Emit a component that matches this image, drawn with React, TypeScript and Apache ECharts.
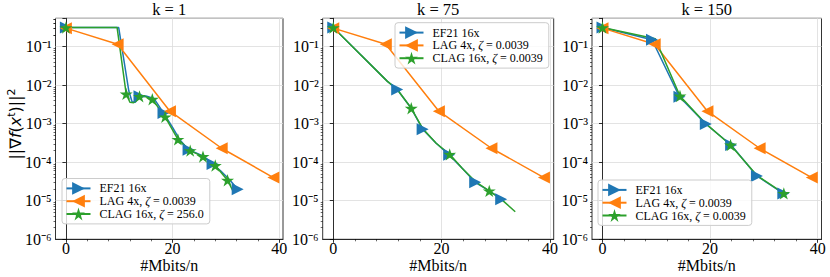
import React, { useEffect, useRef } from 'react';
import * as echarts from 'echarts';

// ---------- texts ----------
const panelTitles = ['k = 1', 'k = 75', 'k = 150'];
const xAxisName = '#Mbits/n';
const xTickValues = [0, 20, 40];
const ef21Name = 'EF21 16x';
const lagName = 'LAG 4x, ζ = 0.0039';
const clag256Name = 'CLAG 16x, ζ = 256.0';
const clag0039Name = 'CLAG 16x, ζ = 0.0039';

// ---------- data: k = 1 ----------
const ef21K1X = [0, 9.9, 11.8, 12.4, 13.0, 13.8, 15.0, 16.5, 18.3, 20.0, 21.3, 23.0, 25.9, 27.5, 29.0, 30.7, 32.2];
const ef21K1Y = [0.31, 0.31, 0.007, 0.0037, 0.0036, 0.0051, 0.0052, 0.0045, 0.0019, 0.0008, 3.9e-4, 2.1e-4, 1.4e-4, 9.0e-5, 6.0e-5, 3.5e-5, 2.0e-5];
const ef21K1Marks = [0, 5, 8, 11, 13, 16];
const clagK1X = [0, 9.6, 11.3, 12.0, 12.7, 13.8, 15.0, 16.2, 18.6, 21.0, 23.3, 25.7, 28.0, 30.3, 31.4];
const clagK1Y = [0.31, 0.31, 0.0059, 0.0036, 0.0035, 0.0051, 0.005, 0.0043, 0.0015, 3.9e-4, 2.0e-4, 1.4e-4, 8.2e-5, 3.4e-5, 1.7e-5];
const clagK1Marks = [0, 2, 5, 7, 8, 9, 10, 11, 12, 13];

// ---------- data: LAG (same in all panels) ----------
const lagX = [0, 9.7, 19.5, 29.2, 38.9];
const lagY = [0.3, 0.115, 0.0021, 2.3e-4, 4.0e-5];
const lagMarks = [0, 1, 2, 3, 4];

// ---------- data: k = 75 ----------
const ef21K75X = [0, 10.0, 11.8, 14.4, 16.5, 19.0, 21.4, 23.8, 26.2, 28.8, 31.0];
const ef21K75Y = [0.31, 0.0125, 0.0077, 0.0025, 7.2e-4, 3.1e-4, 1.55e-4, 7.0e-5, 3.0e-5, 1.8e-5, 1.1e-5];
const ef21K75Marks = [0, 2, 4, 6, 8, 10];
const clagK75X = [0, 10.0, 11.8, 14.4, 16.5, 19.0, 21.5, 23.8, 26.3, 28.8, 31.0, 33.6];
const clagK75Y = [0.31, 0.0125, 0.0078, 0.0025, 7.5e-4, 3.1e-4, 1.6e-4, 7.0e-5, 3.1e-5, 1.8e-5, 1.1e-5, 5.2e-6];
const clagK75Marks = [0, 3, 6, 9];

// ---------- data: k = 150 ----------
const ef21K150X = [0, 9.2, 14.3, 19.2, 23.9, 28.7, 33.6];
const ef21K150Y = [0.31, 0.15, 0.005, 9.8e-4, 2.8e-4, 4.4e-5, 1.55e-5];
const ef21K150Marks = [0, 1, 2, 3, 4, 5, 6];
const clagK150X = [0, 9.8, 14.4, 19.2, 23.8, 28.7, 33.7];
const clagK150Y = [0.31, 0.16, 0.0052, 1.0e-3, 2.8e-4, 4.5e-5, 1.55e-5];
const clagK150Marks = [0, 2, 4, 6];

// ---------- layout / style ----------
const GRID_TOP = 18.3;
const GRID_HEIGHT = 221;
const gridLefts = [55.5, 322.7, 592];
const gridWidths = [227.5, 231, 229.5];
const legendPos = [
  { left: 62, top: 178.5 },
  { left: 395, top: 22.7 },
  { left: 598, top: 180 },
];
const X_MIN = -1.95;
const X_MAX = 40.7;
const Y_MIN = 1e-6;
const Y_MAX = 0.54;

const SERIF = 'Liberation Serif';
const SANS = 'DejaVu Sans';
const BLUE = '#1f77b4';
const ORANGE = '#ff7f0e';
const GREEN = '#2ca02c';
const triRight = 'path://M0,0L10,5L0,10Z';
const triLeft = 'path://M10,0L0,5L10,10Z';
const star =
  'path://M10,0L12.23,6.93L19.51,6.91L13.61,11.17L15.88,18.09L10,13.8L4.12,18.09L6.39,11.17L0.49,6.91L7.77,6.93Z';
const SUP_DIGITS = '⁰¹²³⁴⁵⁶⁷⁸⁹';

function buildData(xs: number[], ys: number[], marks: number[]) {
  return xs.map((x, i) =>
    marks.indexOf(i) >= 0 ? { value: [x, ys[i]] } : { value: [x, ys[i]], symbol: 'none' }
  );
}

const yMinorTicks: number[] = [];
for (let e = -6; e <= -1; e++) {
  for (let m = 2; m <= 9; m++) yMinorTicks.push(m * Math.pow(10, e));
}
yMinorTicks.push(0.2, 0.3, 0.4, 0.5);

const panels = [
  { title: panelTitles[0], ef21: [ef21K1X, ef21K1Y, ef21K1Marks], clag: [clagK1X, clagK1Y, clagK1Marks], clagName: clag256Name },
  { title: panelTitles[1], ef21: [ef21K75X, ef21K75Y, ef21K75Marks], clag: [clagK75X, clagK75Y, clagK75Marks], clagName: clag0039Name },
  { title: panelTitles[2], ef21: [ef21K150X, ef21K150Y, ef21K150Marks], clag: [clagK150X, clagK150Y, clagK150Marks], clagName: clag0039Name },
];

function yLabel(v: number) {
  const l = Math.log10(v);
  const e = Math.round(l);
  if (Math.abs(l - e) > 1e-6) return '';
  const digits = String(Math.abs(e))
    .split('')
    .map((d) => SUP_DIGITS[Number(d)])
    .join('');
  return '10' + (e < 0 ? '⁻' : '') + digits;
}

const TXT = { fontFamily: SERIF, fontWeight: 'normal', fontStyle: 'normal', color: '#000' };

export default function App() {
  const ref = useRef<HTMLDivElement>(null);
  useEffect(() => {
    if (!ref.current) return;
    const chart = echarts.init(ref.current, undefined, { renderer: 'svg' });
    const tickLine = { color: '#000', width: 0.8 };
    const option: any = {
      animation: false,
      backgroundColor: '#fff',
      textStyle: { ...TXT, fontSize: 16 },
      title: panels.map((p, i) => ({
        text: p.title,
        left: gridLefts[i] + gridWidths[i] / 2,
        top: 1,
        textAlign: 'center',
        padding: 0,
        textStyle: { ...TXT, fontSize: 16.5 },
      })),
      grid: panels.map((p, i) => ({
        left: gridLefts[i],
        top: GRID_TOP,
        width: gridWidths[i],
        height: GRID_HEIGHT,
        show: true,
        borderColor: '#000',
        borderWidth: 0.8,
        backgroundColor: 'transparent',
        containLabel: false,
        outerBoundsMode: 'none',
      })),
      legend: panels.map((p, i) => ({
        data: [ef21Name, lagName, p.clagName],
        orient: 'vertical',
        align: 'left',
        left: legendPos[i].left,
        top: legendPos[i].top,
        itemWidth: 24,
        itemHeight: 16,
        itemGap: 0,
        padding: [3.5, 6, 3.5, 3.5],
        backgroundColor: 'rgba(255,255,255,0.8)',
        borderColor: '#cccccc',
        borderWidth: 1,
        borderRadius: 3,
        selectedMode: false,
        formatter: (name: string) => '{t|' + name.replace('ζ', '}{z|ζ}{t|') + '}',
        textStyle: {
          ...TXT,
          fontSize: 12,
          padding: [0, 0, 0, 4],
          rich: {
            t: { ...TXT, fontSize: 12 },
            z: { ...TXT, fontSize: 12, fontStyle: 'italic' },
          },
        },
      })),
      xAxis: panels.map((p, i) => ({
        type: 'value',
        gridIndex: i,
        min: X_MIN,
        max: X_MAX,
        splitNumber: 2,
        name: xAxisName,
        nameLocation: 'middle',
        nameGap: 18,
        nameMoveOverlap: false,
        nameTextStyle: { ...TXT, fontSize: 16 },
        axisLine: { show: true, onZero: false, lineStyle: tickLine },
        axisTick: { show: true, length: 3.5, lineStyle: tickLine, customValues: xTickValues },
        minorTick: { show: true, splitNumber: 5, length: 2, lineStyle: { color: '#000', width: 0.6 } },
        axisLabel: { ...TXT, customValues: xTickValues, fontSize: 16, margin: 1 },
        splitLine: { show: true, lineStyle: { color: '#dcdcdc', width: 0.8 } },
        minorSplitLine: { show: false },
      })),
      yAxis: [
        ...panels.map((p, i) => ({
          type: 'log',
          logBase: 10,
          gridIndex: i,
          min: Y_MIN,
          max: Y_MAX,
          position: 'left',
          axisLine: { show: true, lineStyle: tickLine },
          axisTick: { show: true, length: 3.5, lineStyle: tickLine },
          axisLabel: { ...TXT, formatter: yLabel, margin: 4, fontSize: 16 },
          splitLine: { show: true, lineStyle: { color: '#dcdcdc', width: 0.8 } },
        })),
        ...panels.map((p, i) => ({
          type: 'log',
          logBase: 10,
          gridIndex: i,
          min: Y_MIN,
          max: Y_MAX,
          position: 'left',
          axisLine: { show: false },
          axisLabel: { show: false },
          splitLine: { show: false },
          axisTick: { show: true, length: 2, customValues: yMinorTicks, lineStyle: { color: '#000', width: 0.6 } },
        })),
      ],
      series: panels.flatMap((p, i) => [
        {
          type: 'line',
          name: ef21Name,
          xAxisIndex: i,
          yAxisIndex: i,
          data: buildData(p.ef21[0], p.ef21[1], p.ef21[2]),
          symbol: triRight,
          symbolSize: 12,
          color: BLUE,
          lineStyle: { color: BLUE, width: 1.5 },
          itemStyle: { color: BLUE },
          emphasis: { disabled: true },
          z: 2,
        },
        {
          type: 'line',
          name: lagName,
          xAxisIndex: i,
          yAxisIndex: i,
          data: buildData(lagX, lagY, lagMarks),
          symbol: triLeft,
          symbolSize: 12,
          color: ORANGE,
          lineStyle: { color: ORANGE, width: 1.5 },
          itemStyle: { color: ORANGE },
          emphasis: { disabled: true },
          z: 2,
        },
        {
          type: 'line',
          name: p.clagName,
          xAxisIndex: i,
          yAxisIndex: i,
          data: buildData(p.clag[0], p.clag[1], p.clag[2]),
          symbol: star,
          symbolSize: 13,
          symbolKeepAspect: true,
          color: GREEN,
          lineStyle: { color: GREEN, width: 1.5 },
          itemStyle: { color: GREEN },
          emphasis: { disabled: true },
          z: 2,
        },
      ]),
      graphic: [
        {
          type: 'text',
          x: 15,
          y: 124,
          rotation: Math.PI / 2,
          style: {
            text: '{a|||∇}{i|f}{a|(}{i|x}{sup|t}{a|)||}{sup|2}',
            align: 'center',
            verticalAlign: 'middle',
            rich: {
              a: { fontFamily: SANS, fontSize: 16, fill: '#000', lineHeight: 18 },
              i: { fontFamily: SANS, fontSize: 16, fontStyle: 'italic', fill: '#000', lineHeight: 18 },
              sup: { fontFamily: SANS, fontSize: 11, fill: '#000', lineHeight: 9, verticalAlign: 'top' },
            },
          },
        },
      ],
    };
    chart.setOption(option);
    return () => chart.dispose();
  }, []);
  return <div ref={ref} style={{ position: 'absolute', left: 0, top: 0, width: 830, height: 277 }} />;
}
